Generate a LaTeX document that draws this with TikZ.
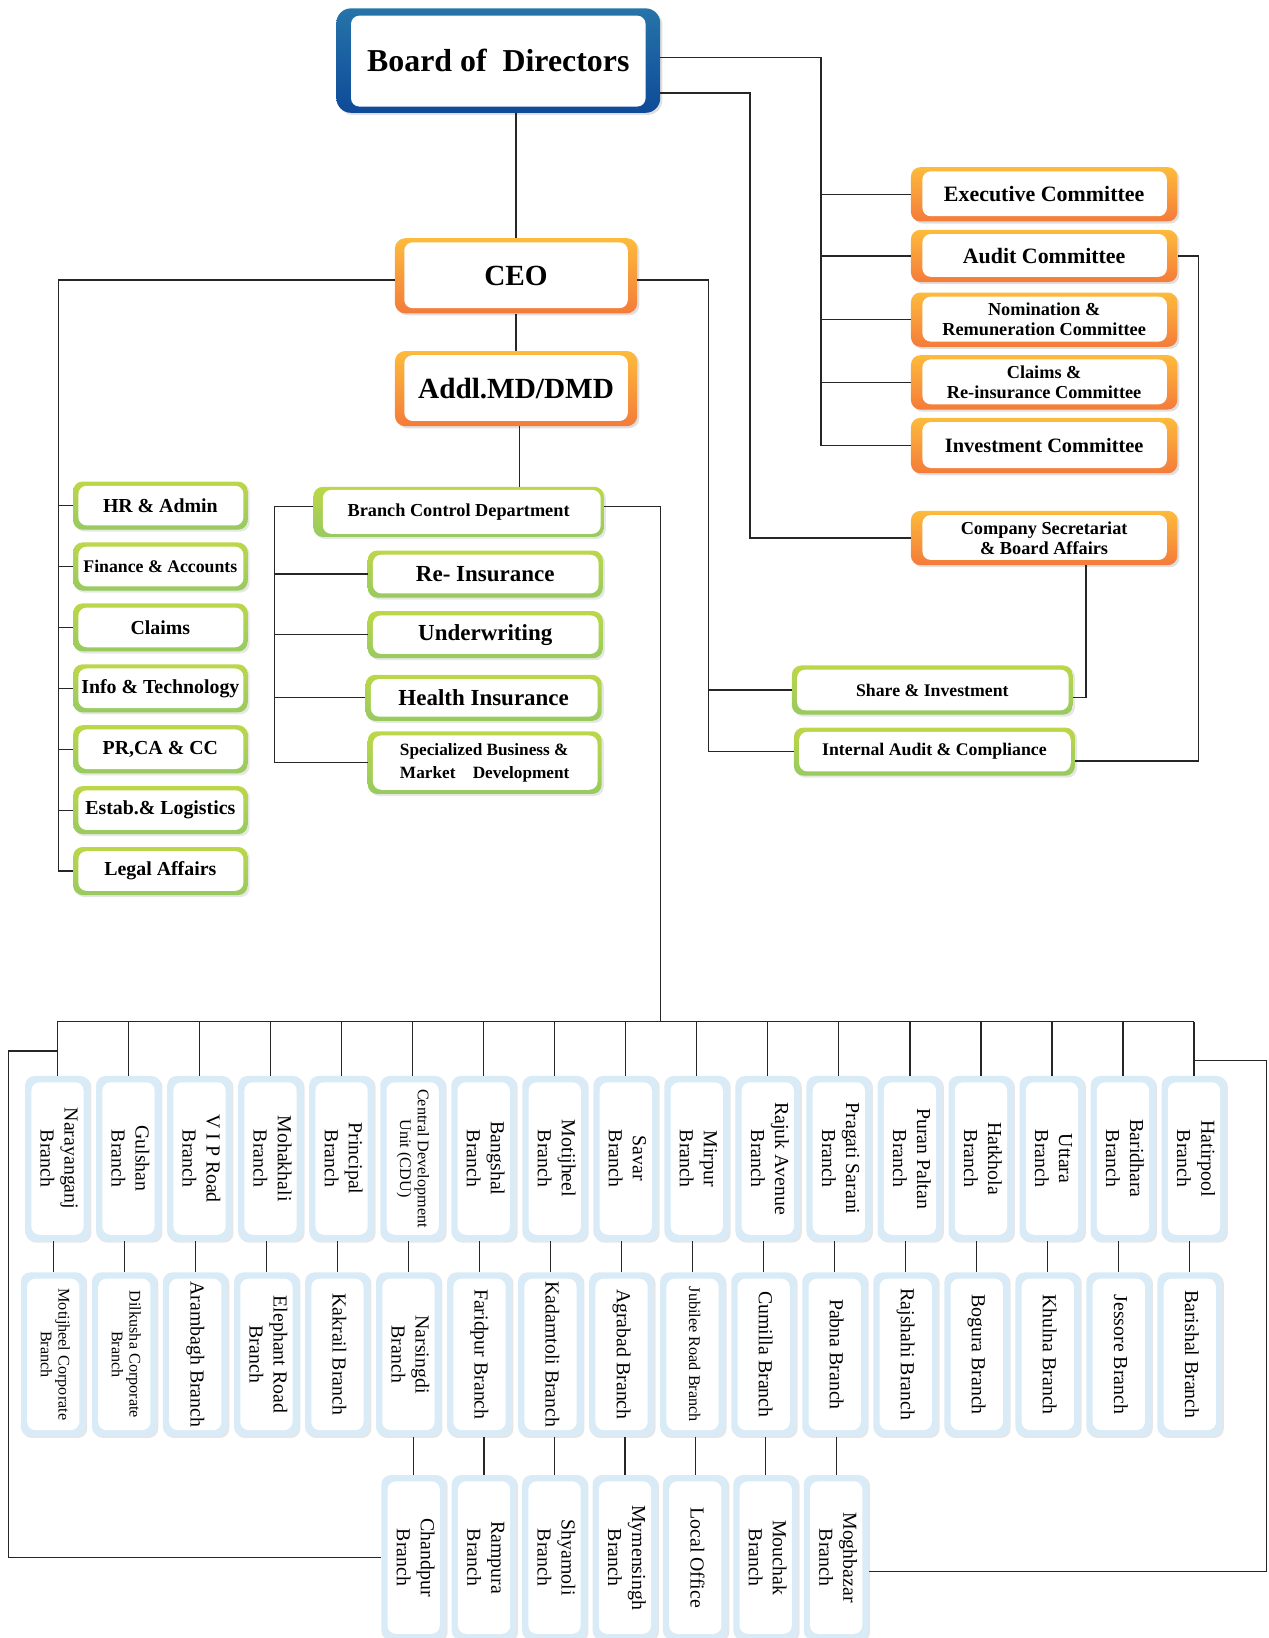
\documentclass[tikz,border=0pt]{standalone}
\usepackage{fontspec}
\setmainfont{Liberation Serif}
\usetikzlibrary{shadows}
\definecolor{boardtop}{HTML}{2674A9}
\definecolor{boardbot}{HTML}{0E4A98}
\definecolor{orgtop}{HTML}{FDBB3C}
\definecolor{orgbot}{HTML}{F47B3A}
\definecolor{grntop}{HTML}{BCD748}
\definecolor{grnbot}{HTML}{97CA5F}
\definecolor{brblue}{HTML}{D9EBF7}
\newcommand{\brtext}[1]{\rotatebox[origin=c]{-90}{\fontsize{19}{23}\selectfont\begin{tabular}{@{}c@{}}#1\end{tabular}}}
\newcommand{\brsmall}[1]{\rotatebox[origin=c]{-90}{\fontsize{15.5}{17}\selectfont\begin{tabular}{@{}c@{}}#1\end{tabular}}}

\begin{document}
\begin{tikzpicture}[x=1pt,y=-1pt,
  inset/.style n args={4}{path picture={\fill[white,rounded corners=8pt]
    ([xshift=#1,yshift=-#2]path picture bounding box.north west) rectangle
    ([xshift=-#3,yshift=#4]path picture bounding box.south east);}},
  link/.style={draw=black!85,line width=1.2pt},
  boardbox/.style={rounded corners=14pt,top color=boardtop,bottom color=boardbot,
    minimum width=310pt,minimum height=100pt,inset={14pt}{7pt}{14pt}{6pt},
    font=\bfseries\fontsize{30.5}{34}\selectfont,
    drop shadow={shadow xshift=2pt,shadow yshift=-2pt,opacity=.25}},
  headbox/.style={rounded corners=10pt,top color=orgtop,bottom color=orgbot,
    minimum width=232pt,minimum height=72pt,inset={9pt}{4pt}{9pt}{5pt},
    font=\bfseries\fontsize{28}{32}\selectfont,
    drop shadow={shadow xshift=2pt,shadow yshift=-2pt,opacity=.25}},
  combox/.style={rounded corners=9pt,top color=orgtop,bottom color=orgbot,
    minimum width=255pt,minimum height=52pt,inset={11pt}{4pt}{10pt}{5pt},
    align=center,font=\bfseries\fontsize{21}{23}\selectfont,
    drop shadow={shadow xshift=2pt,shadow yshift=-2pt,opacity=.25}},
  twoline/.style={font=\bfseries\fontsize{17.5}{19}\selectfont},
  deptbox/.style={rounded corners=9pt,top color=grntop,bottom color=grnbot,
    minimum width=167pt,minimum height=46pt,inset={5pt}{4pt}{4pt}{4pt},
    align=center,font=\bfseries\fontsize{19}{21}\selectfont,
    drop shadow={shadow xshift=2pt,shadow yshift=-2pt,opacity=.2}},
  branchbox/.style={rounded corners=9pt,fill=brblue,
    minimum width=62pt,minimum height=158pt,inset={6pt}{6pt}{6pt}{6pt},
    inner sep=0pt,
    drop shadow={shadow xshift=1.5pt,shadow yshift=-1.5pt,opacity=.2}}]
\useasboundingbox (0,0) rectangle (1214,1568);

% top of the chart
\node[boardbox] (board) at (477,58) {Board of~ Directors};
\node[headbox] (ceo) at (494,264) {CEO};
\node[headbox] (addl) at (494,372) {Addl.MD/DMD};

% board committees
\node[combox] (exec) at (999.5,186) {Executive Committee};
\node[combox,minimum height=50pt] (audit) at (999.5,245) {Audit Committee};
\node[combox,twoline] (nomin) at (999.5,306) {Nomination \&\\Remuneration Committee};
\node[combox,twoline] (claimc) at (999.5,366) {Claims \&\\Re-insurance Committee};
\node[combox,minimum height=53pt,font=\bfseries\fontsize{19.5}{21}\selectfont] (invest) at (999.5,426.5) {Investment Committee};
\node[combox,twoline] (cosec) at (999.5,515) {Company Secretariat\\\& Board Affairs};

% head office departments
\foreach \n/\t [count=\i] in {hr/HR \& Admin,fin/{\fontsize{17}{19}\selectfont Finance \& Accounts},clm/Claims,it/Info \& Technology,pr/{PR,CA \& CC},est/Estab.\& Logistics,legal/Legal Affairs}
  \node[deptbox] (\n) at (153.5,{484+58.3*(\i-1)}) {\t};

\node[deptbox,minimum width=278pt,minimum height=48pt,inset={9pt}{3pt}{3pt}{3pt},font=\bfseries\fontsize{17.5}{19}\selectfont] (bcd) at (439,490) {Branch Control Department};
\node[deptbox,minimum width=225pt,minimum height=45pt,font=\bfseries\fontsize{22}{24}\selectfont] (reins) at (464.5,549.5) {Re- Insurance};
\node[deptbox,minimum width=225pt,minimum height=45pt,font=\bfseries\fontsize{22}{24}\selectfont] (underw) at (464.5,607.5) {Underwriting};
\node[deptbox,minimum width=226pt,minimum height=44pt,font=\bfseries\fontsize{22}{24}\selectfont] (health) at (463,668) {Health Insurance};
\node[deptbox,minimum width=224pt,minimum height=60pt,align=left,font=\bfseries\fontsize{16.5}{22}\selectfont] (special) at (464,730) {Specialized Business \&\\Market\quad Development};

\node[deptbox,minimum width=269pt,minimum height=47pt,font=\bfseries\fontsize{17}{19}\selectfont] (share) at (892.5,660.5) {Share \& Investment};
\node[deptbox,minimum width=269pt,minimum height=46pt,font=\bfseries\fontsize{17}{19}\selectfont] (intaudit) at (894.5,719.5) {Internal Audit \& Compliance};

% branches
\foreach \t [count=\i] in {\brtext{Narayanganj\\Branch},\brtext{Gulshan\\Branch},\brtext{V I P Road\\Branch},\brtext{Mohakhali\\Branch},\brtext{Principal\\Branch},\brsmall{Central Development\\Unit (CDU)},\brtext{Bangshal\\Branch},\brtext{Motijheel\\Branch},\brtext{Savar\\Branch},\brtext{Mirpur\\Branch},\brtext{Rajuk Avenue\\Branch},\brtext{Pragati Sarani\\Branch},\brtext{Puran Paltan\\Branch},\brtext{Hatkhola\\Branch},\brtext{Uttara\\Branch},\brtext{Baridhara\\Branch},\brtext{Hatirpool\\Branch}}
  \node[branchbox] (b1-\i) at ({55+68*(\i-1)},1109) {\t};
\foreach \t [count=\i] in {\brsmall{Motijheel Corporate\\Branch},\brsmall{Dilkusha Corporate\\Branch},\brtext{Arambagh Branch},\brtext{Elephant Road\\Branch},\brtext{Kakrail Branch},\brtext{Narsingdi\\Branch},\brtext{Faridpur Branch},\brtext{Kadamtoli Branch},\brtext{Agrabad Branch},\brsmall{Jubilee Road Branch},\brtext{Cumilla Branch},\brtext{Pabna Branch},\brtext{Rajshahi Branch},\brtext{Bogura Branch},\brtext{Khulna Branch},\brtext{Jessore Branch},\brtext{Barishal Branch}}
  \node[branchbox,minimum height=157pt] (b2-\i) at ({51+68*(\i-1)},1296.5) {\t};
\foreach \t [count=\i] in {\brtext{Chandpur\\Branch},\brtext{Rampura\\Branch},\brtext{Shyamoli\\Branch},\brtext{Mymensingh\\Branch},\brtext{Local Office},\brtext{Mouchak\\Branch},\brtext{Moghbazar\\Branch}}
  \node[branchbox] (b3-\i) at ({396+67.4*(\i-1)},1491) {\t};

% connector rails
\coordinate (cbus) at (786,0);
\coordinate (sbus) at (718,0);
\coordinate (lbus) at (56,0);
\coordinate (rbus) at (678,0);
\coordinate (dbus) at (263,0);
\coordinate (abus) at (1147,0);
\coordinate (bus) at (632,978);
\coordinate (lloop) at (8,1006);
\coordinate (rloop) at (1212.5,1015);

\draw[link] (ceo.north) -- (ceo.north |- board.south);
\draw[link] ([yshift=3pt]board.east) -| (invest.west -| cbus) -- (invest.west);
\foreach \n in {exec,audit,nomin,claimc} \draw[link] (\n.west) -- (\n.west -| cbus);
\draw[link] ([yshift=-31pt]board.east) -| (cosec.west -| sbus) -- (cosec.west);
\draw[link] ([xshift=40pt]cosec.south) |- ([yshift=-7pt]share.east);
\draw[link] (audit.east) -| ([yshift=-9pt]intaudit.east -| abus) -- ([yshift=-9pt]intaudit.east);

\draw[link] ([yshift=-4pt]ceo.west) -| (legal.west -| lbus) -- (legal.west);
\foreach \n in {hr,fin,clm,it,pr,est} \draw[link] (\n.west) -- (\n.west -| lbus);
\draw[link] ([yshift=-4pt]ceo.east) -| (intaudit.west -| rbus) -- (intaudit.west);
\draw[link] (share.west) -- (share.west -| rbus);
\draw[link] (ceo.south) -- (addl.north);
\draw[link] ([xshift=3pt]addl.south) -- ([xshift=3pt]addl.south |- bcd.north);

\draw[link] ([yshift=5pt]bcd.west) -| (special.west -| dbus) -- (special.west);
\foreach \n in {reins,underw,health} \draw[link] (\n.west) -- (\n.west -| dbus);
\draw[link] ([yshift=5pt]bcd.east) -| (bus);

% branch network
\draw[link] (b1-1.north |- bus) -- (b1-17.north |- bus);
\foreach \i in {1,...,17} {
  \draw[link] (b1-\i.north) -- (b1-\i.north |- bus);
  \draw[link] (b2-\i.north) -- (b2-\i.north |- b1-\i.south);
}
\foreach \i [evaluate=\i as \j using int(\i+5)] in {1,...,7}
  \draw[link] (b3-\i.north) -- (b3-\i.north |- b2-\j.south);
\draw[link] (b1-1.north |- lloop) -- (lloop) |- (b3-1.west);
\draw[link] (b1-17.north |- rloop) -- (rloop) |- ([yshift=-13pt]b3-7.east);
\end{tikzpicture}
\end{document}
